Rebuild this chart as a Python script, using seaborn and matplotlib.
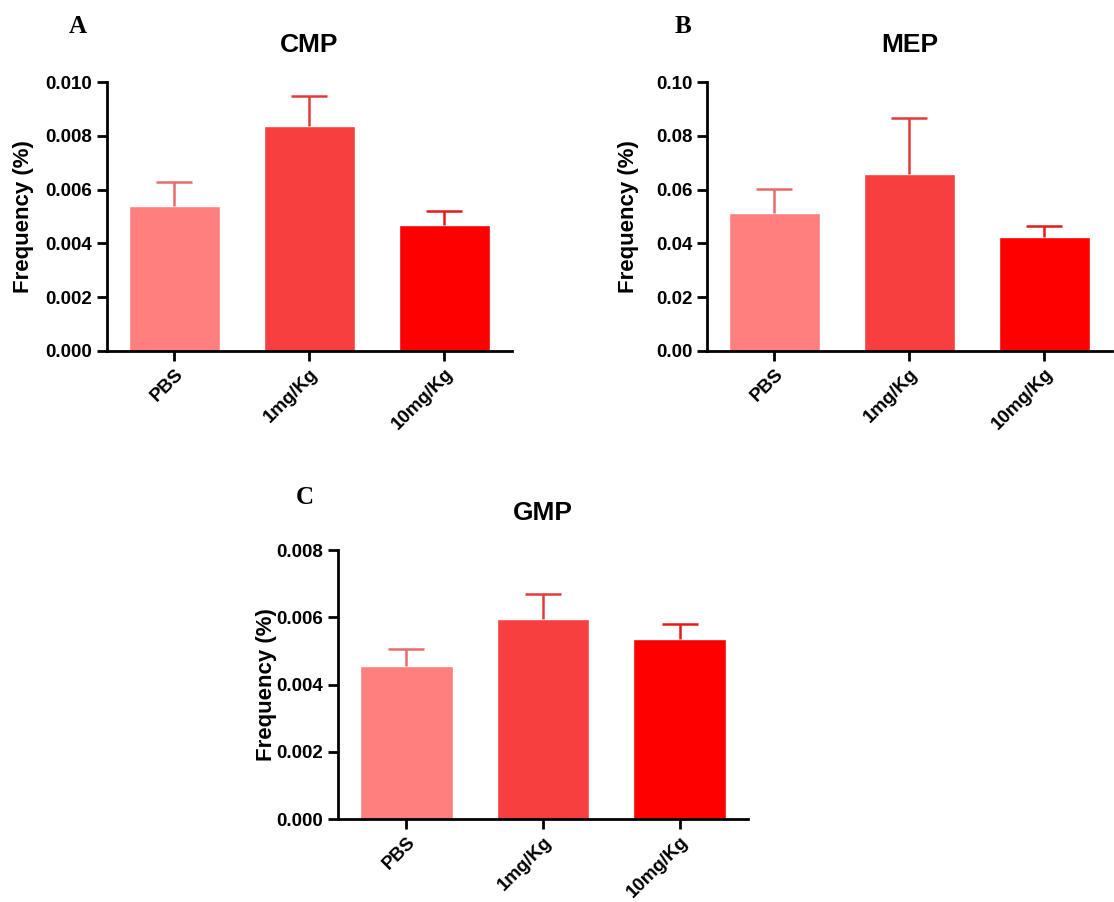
import matplotlib
matplotlib.use("Agg")
import matplotlib.pyplot as plt
import seaborn as sns
import pandas as pd
import numpy as np

groups = ["PBS", "1mg/Kg", "10mg/Kg"]
cmp_mean = [0.0054, 0.00835, 0.0047]
cmp_upper = [0.0063, 0.0095, 0.0052]
mep_mean = [0.0512, 0.0658, 0.0422]
mep_upper = [0.0602, 0.0865, 0.0465]
gmp_mean = [0.00455, 0.00595, 0.00535]
gmp_upper = [0.00505, 0.0067, 0.0058]

bar_colors = ["#FF7F7F", "#F73F3F", "#FF0000"]
err_colors = ["#E86A6A", "#E23A3A", "#E51A1A"]

sns.set_theme(style="ticks")
plt.rcParams["font.family"] = ["Liberation Sans", "DejaVu Sans"]
plt.rcParams["text.color"] = "black"
plt.rcParams["axes.labelcolor"] = "black"

fig = plt.figure(figsize=(11.14, 9.02), dpi=100)

panels = [
    ("CMP", "A", cmp_mean, cmp_upper, 0.010, 0.002, "%.3f", [0.096, 0.611, 0.3636, 0.298], (0.070, 0.983), -0.180),
    ("MEP", "B", mep_mean, mep_upper, 0.10, 0.02, "%.2f", [0.6346, 0.611, 0.3636, 0.298], (0.613, 0.983), -0.168),
    ("GMP", "C", gmp_mean, gmp_upper, 0.008, 0.002, "%.3f", [0.3034, 0.092, 0.368, 0.298], (0.274, 0.461), -0.149),
]

for title, letter, means, uppers, ymax, step, fmt, rect, lpos, ylx in panels:
    ax = fig.add_axes(rect)
    df = pd.DataFrame({"group": groups, "value": means})
    sns.barplot(data=df, x="group", y="value", hue="group", palette=bar_colors,
                order=groups, hue_order=groups, legend=False, width=0.68,
                saturation=1, errorbar=None, ax=ax, zorder=2)
    for i, (m, u) in enumerate(zip(means, uppers)):
        _, caps, _ = ax.errorbar(i, m, yerr=[[0], [u - m]], fmt="none",
                                 ecolor=err_colors[i], elinewidth=1.8, capsize=13,
                                 capthick=1.8, zorder=3)
        for c in caps:
            if np.allclose(c.get_ydata(), m):
                c.set_visible(False)
    ax.set_xlim(-0.5, 2.5)
    ax.set_ylim(0, ymax)
    ax.set_yticks(np.arange(0, ymax + step / 2, step))
    ax.yaxis.set_major_formatter(matplotlib.ticker.FormatStrFormatter(fmt))
    ax.set_xlabel("")
    ax.set_ylabel("Frequency (%)", fontsize=16, fontweight="bold", color="black")
    ax.yaxis.set_label_coords(ylx, 0.5)
    ax.set_title(title, fontsize=19, fontweight="bold", pad=22, color="black")
    for s in ["top", "right"]:
        ax.spines[s].set_visible(False)
    for s in ["left", "bottom"]:
        ax.spines[s].set_linewidth(2)
        ax.spines[s].set_color("black")
    ax.tick_params(axis="both", direction="out", length=7, width=2, colors="black",
                   labelsize=13.5)
    for lab in ax.get_yticklabels():
        lab.set_fontweight("bold")
    ax.set_xticks(range(len(groups)))
    ax.set_xticklabels(groups, rotation=45, ha="right", rotation_mode="anchor",
                       fontweight="bold", fontsize=13.5)
    fig.text(lpos[0], lpos[1], letter, fontsize=18, fontweight="bold",
             family=["Liberation Serif", "DejaVu Serif"], va="top", ha="center")

fig.savefig("out.png", dpi=100)
